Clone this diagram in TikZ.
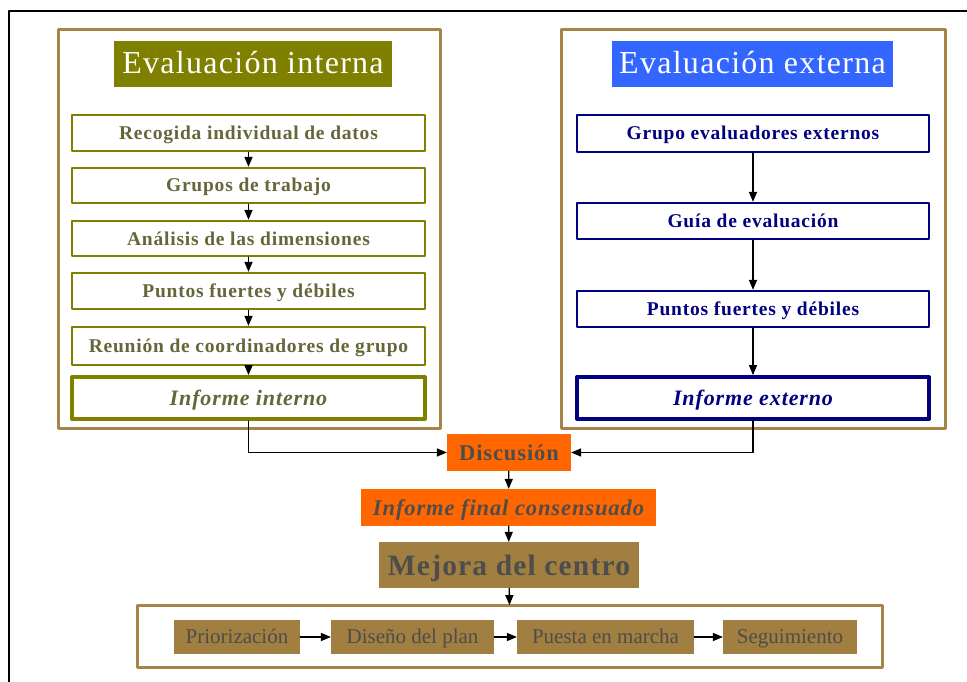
\documentclass[tikz,border=0pt]{standalone}
\usepackage{fontspec}
\setmainfont{Liberation Serif}[LetterSpace=4]
\newfontfamily\plainfont{Liberation Serif}
\usetikzlibrary{arrows,positioning}
\definecolor{frame}{RGB}{166,132,72}
\definecolor{olv}{RGB}{128,128,0}
\definecolor{oltext}{RGB}{102,102,58}
\definecolor{navy}{RGB}{0,0,128}
\definecolor{titleblue}{RGB}{51,102,255}
\definecolor{orng}{RGB}{255,102,0}
\definecolor{mejora}{RGB}{160,127,64}
\definecolor{gtext}{RGB}{77,77,77}
\tikzset{
  outerbox/.style={draw=frame, line width=3pt},
  title/.style={inner sep=0pt, text=white, text height=22pt, text depth=2pt, font=\fontsize{32}{36}\selectfont, minimum height=46pt},
  intbox/.style={draw=olv, line width=2.5pt, fill=white, inner sep=0pt, minimum width=353pt, text=oltext, text height=16pt, text depth=3pt, font=\fontsize{19.5}{22}\selectfont\bfseries},
  extbox/.style={draw=navy, line width=2.5pt, fill=white, inner sep=0pt, minimum width=352pt, text=navy, text height=16pt, text depth=3pt, font=\fontsize{19.5}{22}\selectfont\bfseries},
  result/.style={inner sep=0pt, text=gtext, text height=17pt, text depth=2pt, font=\bfseries},
  phase/.style={fill=mejora, inner sep=0pt, minimum height=34pt, text=gtext, text height=16pt, text depth=4pt, font=\plainfont\fontsize{21}{24}\selectfont},
  flow/.style={->, line width=1.3pt}
}
\begin{document}
\begin{tikzpicture}[line cap=round, line join=round, >=triangle 45, x=1pt, y=-1pt]
\useasboundingbox (0,0) rectangle (967,682);
\draw [line width=2pt, line cap=butt] (9,682) -- (9,11) -- (967,11);
\draw [outerbox] (58,30) rectangle (440,428);
\draw [outerbox] (561,30) rectangle (945,428);
\node (tint) [title, fill=olv, minimum width=278pt] at (253,64) {Evaluación interna};
\node (text) [title, fill=titleblue, minimum width=281pt] at (752.5,64) {Evaluación externa};
\node (i1) [intbox, minimum height=36pt] at (248.5,133) {Recogida individual de datos};
\node (i2) [intbox, minimum height=35pt] at (248.5,185.5) {Grupos de trabajo};
\node (i3) [intbox, minimum height=35pt] at (248.5,238.5) {Análisis de las dimensiones};
\node (i4) [intbox, minimum height=36pt] at (248.5,291) {Puntos fuertes y débiles};
\node (i5) [intbox, minimum height=38pt] at (248.5,346) {Reunión de coordinadores de grupo};
\node (i6) [intbox, line width=4pt, minimum height=42pt, text height=18pt, text depth=4pt, font=\fontsize{22}{26}\selectfont\bfseries\itshape] at (248.5,398) {Informe interno};
\draw [olv, line width=0.8pt] ([shift={(3.5pt,-3.5pt)}]i6.north west) rectangle ([shift={(-3.5pt,3.5pt)}]i6.south east);
\node (e1) [extbox, minimum height=37pt] at (753,133.5) {Grupo evaluadores externos};
\node (e2) [extbox, minimum height=36pt] at (753,221) {Guía de evaluación};
\node (e3) [extbox, minimum height=36pt] at (753,309) {Puntos fuertes y débiles};
\node (e4) [extbox, line width=4pt, minimum height=42pt, text height=18pt, text depth=4pt, font=\fontsize{22}{26}\selectfont\bfseries\itshape] at (753,398) {Informe externo};
\draw [navy, line width=0.8pt] ([shift={(3.5pt,-3.5pt)}]e4.north west) rectangle ([shift={(-3.5pt,3.5pt)}]e4.south east);
\foreach \a/\b in {i1/i2,i2/i3,i3/i4,i4/i5,i5/i6,e1/e2,e2/e3,e3/e4}
  \draw [flow] (\a) -- (\b);
\node (disc) [result, fill=orng, minimum width=124pt, minimum height=37pt, font=\fontsize{22.5}{26}\selectfont\bfseries] at (509,452.5) {Discusión};
\node (final) [result, fill=orng, minimum width=295pt, minimum height=37pt, font=\fontsize{22.5}{26}\selectfont\bfseries\itshape] at (508.5,507.5) {Informe final consensuado};
\node (mejora) [result, fill=mejora, minimum width=260pt, minimum height=46pt, text height=22pt, text depth=2pt, font=\fontsize{29.5}{34}\selectfont\bfseries] at (509,565) {Mejora del centro};
\draw [flow] (i6.south) |- (disc.west);
\draw [flow] (e4.south) |- (disc.east);
\draw [flow] (disc) -- (final);
\draw [flow] (final) -- (mejora);
\draw [outerbox] (137,605) rectangle (882,667);
\coordinate (plan) at (509.5,605);
\draw [flow] (mejora) -- (plan);
\node (p1) [phase, minimum width=126pt] at (237,637) {Priorización};
\node (p2) [phase, minimum width=163pt] at (412.5,637) {Diseño del plan};
\node (p3) [phase, minimum width=177pt] at (605.5,637) {Puesta en marcha};
\node (p4) [phase, minimum width=134pt] at (790,637) {Seguimiento};
\foreach \a/\b in {p1/p2,p2/p3,p3/p4}
  \draw [flow] (\a) -- (\b);
\end{tikzpicture}
\end{document}
